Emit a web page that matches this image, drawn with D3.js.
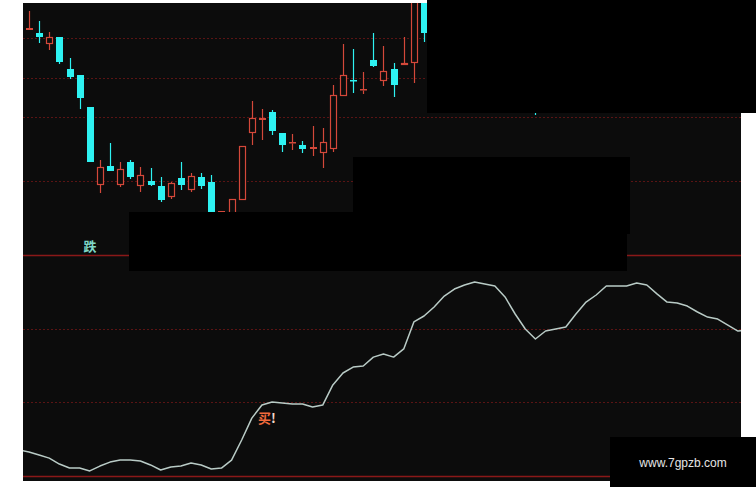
<!DOCTYPE html>
<html><head><meta charset="utf-8">
<script src="https://cdn.jsdelivr.net/npm/d3@7"></script>
<style>html,body{margin:0;padding:0;background:#fff;}svg{display:block;}</style>
</head><body>
<script>
// ---- data ----
const candleIndex = [0,1,2,3,4,5,6,7,8,9,10,11,12,13,14,15,16,17,18,19,20,21,22,23,24,25,26,27,28,29,30,31,32,33,34,35,36,37,38,39,50];
const openV  = [11.46,11.40,11.18,11.32,10.68,10.56,9.92,8.36,8.74,8.36,8.82,8.34,8.44,8.34,8.12,8.50,8.26,8.52,8.42,7.82,7.78,8.06,9.40,9.66,9.82,9.40,9.20,9.16,9.08,9.00,9.08,10.14,10.46,10.26,10.86,10.44,10.68,10.76,10.80,12.20,10.90];
const highV  = [11.84,11.64,11.42,11.32,10.90,10.56,9.92,8.86,9.20,8.82,8.86,8.72,8.70,8.52,8.42,8.82,8.60,8.60,8.56,7.84,8.08,9.14,10.04,9.88,9.86,9.40,9.38,9.24,9.54,9.50,10.36,11.18,11.08,10.62,11.40,11.14,10.80,11.32,12.30,12.30,11.20];
const lowV   = [11.46,11.20,11.06,10.78,10.48,9.88,8.82,8.20,8.64,8.32,8.48,8.22,8.34,8.02,8.08,8.26,8.22,8.28,7.78,7.70,7.78,8.06,9.16,9.26,9.36,9.02,9.06,9.00,8.94,8.70,9.02,10.14,10.20,10.18,10.72,10.34,10.12,10.76,10.40,11.22,9.76];
const closeV = [11.50,11.32,11.32,10.82,10.52,10.10,8.82,8.72,8.64,8.68,8.52,8.56,8.36,8.06,8.40,8.36,8.54,8.34,7.80,7.84,8.08,9.14,9.70,9.70,9.44,9.16,9.22,9.08,9.12,9.22,10.16,10.56,10.44,10.28,10.74,10.64,10.36,10.80,12.20,11.40,10.10];
const priceGrid = [11.30, 10.50, 9.72, 8.44];

const lineIndex = [-1,0,1,2,3,4,5,6,7,8,9,10,11,12,13,14,15,16,17,18,19,20,21,22,23,24,25,26,27,28,29,30,31,32,33,34,35,36,37,38,39,40,41,42,43,44,45,46,47,48,49,50,51,52,53,54,55,56,57,58,59,60,61,62,63,64,65,66,67,68,69,70,71];
const lineValues = [11.8,10.9,9.5,8.1,5.4,3.6,3.6,2.3,4.5,6.3,7.2,7.2,6.8,5.0,2.7,4.1,4.5,5.9,5.0,3.2,3.6,7.2,16.3,26.2,32.1,33.5,33.0,32.6,32.6,31.2,32.1,41.2,46.6,49.3,49.8,53.8,55.2,53.8,57.5,69.7,72.4,76.5,81.4,84.6,86.4,87.8,86.9,86.0,81.0,73.3,66.5,62.0,65.6,66.5,67.4,73.3,78.7,81.9,86.0,86.0,86.0,87.3,86.4,82.4,78.7,78.3,76.9,74.2,71.9,71.0,68.3,65.6,66.1];
const indGrid = [33.3, 66.7];

// ---- layout ----
const W = 756, H = 487;
const P = {x0: 23, x1: 741, y0: 3, y1: 481};
const upTop = 3, upBot = 255, loTop = 255, loBot = 476;
const RED = "#d4483a", CYAN = "#2ef2f2", BG = "#0c0c0c";

const svg = d3.select("body").append("svg").attr("width", W).attr("height", H);
svg.append("rect").attr("width", W).attr("height", H).attr("fill", "#fff");
svg.append("rect").attr("x", P.x0).attr("y", P.y0).attr("width", P.x1 - P.x0).attr("height", P.y1 - P.y0).attr("fill", BG);

const defs = svg.append("defs");
defs.append("clipPath").attr("id", "cUp").append("rect").attr("x", P.x0).attr("y", upTop).attr("width", P.x1 - P.x0).attr("height", upBot - upTop);
defs.append("clipPath").attr("id", "cLo").append("rect").attr("x", P.x0).attr("y", loTop).attr("width", P.x1 - P.x0).attr("height", loBot - loTop);

const x = d3.scaleLinear().domain([0, 39]).range([29, 424]);
const yP = d3.scaleLinear().domain([7.0, 12.0]).range([253, 3]);
const yI = d3.scaleLinear().domain([0, 100]).range([loBot, loTop]);

// grid lines
svg.append("g").selectAll("line").data(priceGrid).join("line")
  .attr("x1", P.x0).attr("x2", P.x1).attr("y1", d => Math.round(yP(d)) + 0.5).attr("y2", d => Math.round(yP(d)) + 0.5)
  .attr("stroke", "#5a1414").attr("stroke-width", 1).attr("stroke-dasharray", "2,2");
svg.append("g").selectAll("line").data(indGrid).join("line")
  .attr("x1", P.x0).attr("x2", P.x1).attr("y1", d => Math.round(yI(d)) + 0.5).attr("y2", d => Math.round(yI(d)) + 0.5)
  .attr("stroke", "#5a1414").attr("stroke-width", 1).attr("stroke-dasharray", "2,2");
// solid separators
[yI(100), yI(0)].forEach(v => {
  svg.append("line").attr("x1", P.x0).attr("x2", P.x1).attr("y1", Math.round(v) + 0.5).attr("y2", Math.round(v) + 0.5)
    .attr("stroke", "#8a1818").attr("stroke-width", 1.5);
});

// candles
const candles = candleIndex.map((i, k) => ({i, o: openV[k], h: highV[k], l: lowV[k], c: closeV[k]}));
const gC = svg.append("g").attr("clip-path", "url(#cUp)");
const bw = 7;
candles.forEach(d => {
  const up = d.c >= d.o;
  const col = up ? RED : CYAN;
  const cx = Math.round(x(d.i)) + 0.5;
  const top = yP(Math.max(d.o, d.c)), bot = yP(Math.min(d.o, d.c));
  const bh = Math.max(1.5, bot - top);
  if (up) {
    gC.append("line").attr("x1", cx).attr("x2", cx).attr("y1", yP(d.h)).attr("y2", top).attr("stroke", col).attr("stroke-width", 1.2);
    gC.append("line").attr("x1", cx).attr("x2", cx).attr("y1", top + bh).attr("y2", yP(d.l)).attr("stroke", col).attr("stroke-width", 1.2);
    if (bh <= 2) {
      gC.append("rect").attr("x", cx - bw / 2).attr("y", top).attr("width", bw).attr("height", bh).attr("fill", col);
    } else {
      gC.append("rect").attr("x", cx - bw / 2 + 0.5).attr("y", top + 0.5).attr("width", bw - 1).attr("height", bh - 1)
        .attr("fill", BG).attr("stroke", col).attr("stroke-width", 1.2);
    }
  } else {
    gC.append("line").attr("x1", cx).attr("x2", cx).attr("y1", yP(d.h)).attr("y2", yP(d.l)).attr("stroke", col).attr("stroke-width", 1.2);
    gC.append("rect").attr("x", cx - bw / 2).attr("y", top).attr("width", bw).attr("height", bh).attr("fill", col);
  }
});

// indicator line
const lineData = lineIndex.map((i, k) => ({i, v: lineValues[k]}));
svg.append("g").attr("clip-path", "url(#cLo)").append("path").datum(lineData)
  .attr("d", d3.line().x(d => x(d.i)).y(d => yI(d.v)))
  .attr("fill", "none").attr("stroke", "#b9cbc6").attr("stroke-width", 1.5).attr("stroke-linejoin", "round");

// black cover boxes
svg.append("rect").attr("x", 427).attr("y", 0).attr("width", 329).attr("height", 113).attr("fill", "#000");
svg.append("rect").attr("x", 353).attr("y", 157).attr("width", 277).attr("height", 77).attr("fill", "#000");
svg.append("rect").attr("x", 129).attr("y", 212).attr("width", 498).attr("height", 59).attr("fill", "#000");
svg.append("rect").attr("x", 610).attr("y", 437).attr("width", 146).attr("height", 50).attr("fill", "#000");

// labels
svg.append("text").attr("x", 90).attr("y", 251).attr("text-anchor", "middle")
  .attr("font-family", "'Noto Sans CJK SC', sans-serif").attr("font-size", 13).attr("font-weight", "bold")
  .attr("fill", "#7fd8c8").text("跌");
const buy = svg.append("text").attr("x", 258).attr("y", 423)
  .attr("font-family", "'Noto Sans CJK SC', sans-serif").attr("font-size", 13).attr("font-weight", "bold");
buy.append("tspan").attr("fill", "#f06a3c").text("买");
buy.append("tspan").attr("fill", "#f3d8c8").text("!");
svg.append("text").attr("x", 683).attr("y", 467).attr("text-anchor", "middle")
  .attr("font-family", "'Liberation Sans', Arial, sans-serif").attr("font-size", 12)
  .attr("fill", "#e6e6e6").text("www.7gpzb.com");
</script>
</body></html>
